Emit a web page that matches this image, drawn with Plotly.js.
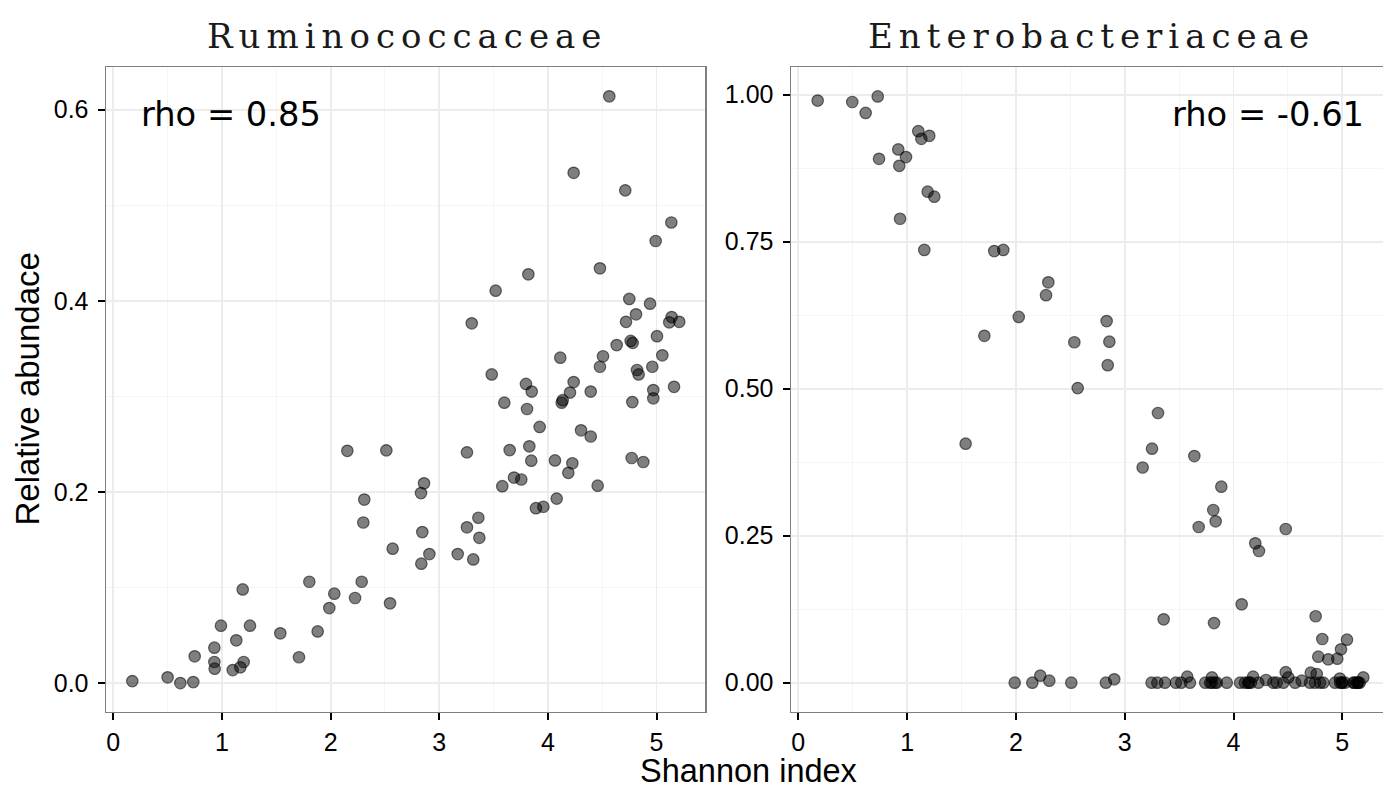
<!DOCTYPE html>
<html>
<head>
<meta charset="utf-8">
<script src="https://cdn.plot.ly/plotly-3.0.1.min.js"></script>
<style>
  html, body { margin: 0; padding: 0; background: #fff; }
  #chart { width: 1383px; height: 790px; }
  g.annotation[data-index="0"] text, g.annotation[data-index="1"] text { letter-spacing: 6px; }
</style>
</head>
<body>
<div id="chart"></div>
<script>
// ---- data ----
const panelTitles = ["Ruminococcaceae", "Enterobacteriaceae"];
const rhoLabels = ["rho = 0.85", "rho = -0.61"];

const ruminoX = [0.175,0.50,0.617,0.736,0.749,0.93,0.933,0.93,0.991,1.099,1.169,1.2,1.132,1.191,1.258,1.537,1.709,1.804,1.881,1.988,2.034,2.225,2.286,2.154,2.513,2.31,2.301,2.571,2.547,2.86,2.832,2.844,2.909,2.835,3.17,3.255,3.36,3.369,3.313,3.255,3.58,3.688,3.755,3.648,3.829,3.847,3.924,3.599,3.808,3.798,3.851,3.89,3.958,4.081,4.065,4.225,4.188,4.305,4.394,4.458,4.771,4.878,4.127,4.136,4.203,4.237,4.394,4.777,4.97,4.97,5.161,4.565,4.237,4.712,5.136,4.992,4.479,3.82,3.519,3.299,4.749,4.94,4.811,4.719,5.139,5.117,5.209,5.004,4.762,4.78,4.633,5.053,4.507,4.479,4.114,4.961,4.82,4.835,3.483];
const ruminoY = [0.002,0.006,0.000,0.001,0.028,0.022,0.015,0.037,0.060,0.0136,0.0164,0.022,0.0447,0.098,0.060,0.052,0.027,0.106,0.054,0.0785,0.0935,0.089,0.106,0.243,0.2435,0.192,0.168,0.1406,0.0834,0.209,0.1988,0.158,0.135,0.1249,0.135,0.163,0.173,0.152,0.1294,0.2414,0.206,0.215,0.213,0.2438,0.2477,0.2327,0.268,0.2934,0.2868,0.313,0.305,0.183,0.1845,0.193,0.233,0.23,0.220,0.2645,0.258,0.2065,0.2355,0.2313,0.2934,0.296,0.304,0.315,0.305,0.294,0.3066,0.298,0.310,0.614,0.534,0.5156,0.482,0.4626,0.434,0.4277,0.4106,0.3765,0.402,0.397,0.3859,0.378,0.383,0.3775,0.378,0.363,0.358,0.356,0.3537,0.343,0.342,0.331,0.3405,0.331,0.3276,0.323,0.323];

const enteroX = [0.178,0.496,0.619,0.73,1.103,1.131,1.204,0.919,0.99,0.742,0.928,1.189,1.25,0.935,1.158,1.801,1.884,2.298,2.277,2.026,1.71,2.537,2.568,1.538,2.834,2.859,2.844,3.306,3.251,3.165,3.64,3.888,3.814,3.836,3.68,4.48,4.2,4.234,4.075,3.358,3.821,4.755,4.816,5.043,4.988,4.779,4.871,4.954,4.48,4.504,4.71,4.765,5.193,4.18,3.802,3.575,2.904,4.299,4.977,4.627,2.224,2.307,
  1.989,2.151,2.509,2.827,3.247,3.3,3.37,3.47,3.52,3.6,3.74,3.785,3.846,3.938,4.06,4.105,4.136,4.228,4.366,4.397,4.458,4.566,4.703,4.749,4.795,4.826,4.933,4.995,5.025,5.102,5.133,5.148,3.80,3.83,4.14,4.16,4.98,5.0,5.11,5.14,5.16];
const enteroY = [0.990,0.9876,0.969,0.997,0.938,0.925,0.930,0.907,0.894,0.891,0.879,0.835,0.8265,0.789,0.736,0.734,0.736,0.681,0.659,0.622,0.590,0.579,0.501,0.4065,0.615,0.580,0.540,0.4587,0.398,0.366,0.3855,0.3334,0.2937,0.2745,0.2648,0.2614,0.237,0.224,0.1333,0.1078,0.1015,0.113,0.0743,0.0732,0.0568,0.0442,0.0398,0.0408,0.018,0.009,0.017,0.0148,0.009,0.0102,0.009,0.0102,0.0058,0.0046,0.007,0.0034,0.012,0.0034,
  0,0,0,0,0,0,0,0,0,0,0,0,0,0,0,0,0,0,0,0,0,0,0,0,0,0,0,0,0,0,0,0,0,0,0,0,0,0,0,0,0];

const xTickVals = [0,1,2,3,4,5];
const xTickText = ["0","1","2","3","4","5"];
const yTickVals1 = [0,0.2,0.4,0.6];
const yTickText1 = ["0.0","0.2","0.4","0.6"];
const yTickVals2 = [0,0.25,0.5,0.75,1];
const yTickText2 = ["0.00","0.25","0.50","0.75","1.00"];

// ---- styling / layout ----
const W = 1383, H = 790;
const px = v => v / W, py = v => 1 - v / H;

const marker = { color: 'rgba(0,0,0,0.5)', size: 11.5, line: { color: 'rgba(0,0,0,0.55)', width: 1.2 } };

const traces = [
  { x: ruminoX, y: ruminoY, type: 'scatter', mode: 'markers', marker: marker, xaxis: 'x', yaxis: 'y', hoverinfo: 'x+y' },
  { x: enteroX, y: enteroY, type: 'scatter', mode: 'markers', marker: marker, xaxis: 'x2', yaxis: 'y2', hoverinfo: 'x+y' }
];

const tickFont = { family: 'Liberation Sans, Arial, sans-serif', size: 25, color: '#000' };
const borderColor = '#7f7f7f';

function xAxis(domain, range, mirror) {
  return {
    domain: domain, range: range, autorange: false,
    tickmode: 'array', tickvals: xTickVals, ticktext: xTickText,
    ticks: 'outside', ticklen: 7, tickwidth: 2, tickcolor: '#000',
    tickfont: tickFont, ticklabelstandoff: 1,
    showgrid: true, gridcolor: '#ececec', gridwidth: 1.8,
    minor: { dtick: 0.5, tick0: 0, showgrid: true, gridcolor: '#f5f5f5', gridwidth: 1, ticks: '' },
    showline: true, linecolor: borderColor, linewidth: 1.5, mirror: mirror,
    zeroline: false, automargin: false, fixedrange: true
  };
}
function yAxis(domain, range, vals, text, minorDtick, mirror, anchor) {
  return {
    domain: domain, range: range, autorange: false, anchor: anchor,
    tickmode: 'array', tickvals: vals, ticktext: text,
    ticks: 'outside', ticklen: 7, tickwidth: 2, tickcolor: '#000',
    tickfont: tickFont, ticklabelstandoff: 4,
    showgrid: true, gridcolor: '#ececec', gridwidth: 1.8,
    minor: { dtick: minorDtick, tick0: 0, showgrid: true, gridcolor: '#f5f5f5', gridwidth: 1, ticks: '' },
    showline: true, linecolor: borderColor, linewidth: 1.5, mirror: mirror,
    zeroline: false, automargin: false, fixedrange: true
  };
}

const yDom = [1 - 711.7 / H, 1 - 67.3 / H];

const layout = {
  width: W, height: H,
  margin: { l: 0, r: 0, t: 0, b: 0, pad: 0 },
  paper_bgcolor: '#fff', plot_bgcolor: '#fff',
  showlegend: false,
  xaxis: Object.assign(xAxis([px(106), px(705)], [-0.0672, 5.4459], true), { anchor: 'y' }),
  yaxis: yAxis(yDom, [-0.0300, 0.6444], yTickVals1, yTickText1, 0.1, true, 'x'),
  xaxis2: Object.assign(xAxis([px(791), 1], [-0.0671, 5.374], true), { anchor: 'y2' }),
  yaxis2: yAxis(yDom, [-0.0493, 1.0466], yTickVals2, yTickText2, 0.125, false, 'x2'),
  annotations: [
    { text: panelTitles[0], xref: 'paper', yref: 'paper', x: px(406.5), y: py(36), xanchor: 'center', yanchor: 'middle', showarrow: false, borderpad: 0,
      font: { family: 'DejaVu Serif, serif', size: 34, color: '#1a1a1a' } },
    { text: panelTitles[1], xref: 'paper', yref: 'paper', x: px(1091.5), y: py(36), xanchor: 'center', yanchor: 'middle', showarrow: false, borderpad: 0,
      font: { family: 'DejaVu Serif, serif', size: 34, color: '#1a1a1a' } },
    { text: rhoLabels[0], xref: 'paper', yref: 'paper', x: px(140), y: py(114), xanchor: 'left', yanchor: 'middle', showarrow: false, borderpad: 0,
      font: { family: 'DejaVu Sans, sans-serif', size: 33.7, color: '#000' } },
    { text: rhoLabels[1], xref: 'paper', yref: 'paper', x: px(1365), y: py(114), xanchor: 'right', yanchor: 'middle', showarrow: false, borderpad: 0,
      font: { family: 'DejaVu Sans, sans-serif', size: 33.7, color: '#000' } },
    { text: 'Relative abundace', xref: 'paper', yref: 'paper', x: px(27), y: py(389.5), xanchor: 'center', yanchor: 'middle', textangle: -90, showarrow: false, borderpad: 0,
      font: { family: 'Liberation Sans, Arial, sans-serif', size: 33, color: '#000' } },
    { text: 'Shannon index', xref: 'paper', yref: 'paper', x: px(748), y: py(770.5), xanchor: 'center', yanchor: 'middle', showarrow: false, borderpad: 0,
      font: { family: 'Liberation Sans, Arial, sans-serif', size: 32.5, color: '#000' } }
  ]
};

Plotly.newPlot('chart', traces, layout, { displayModeBar: false, staticPlot: true });
</script>
</body>
</html>
